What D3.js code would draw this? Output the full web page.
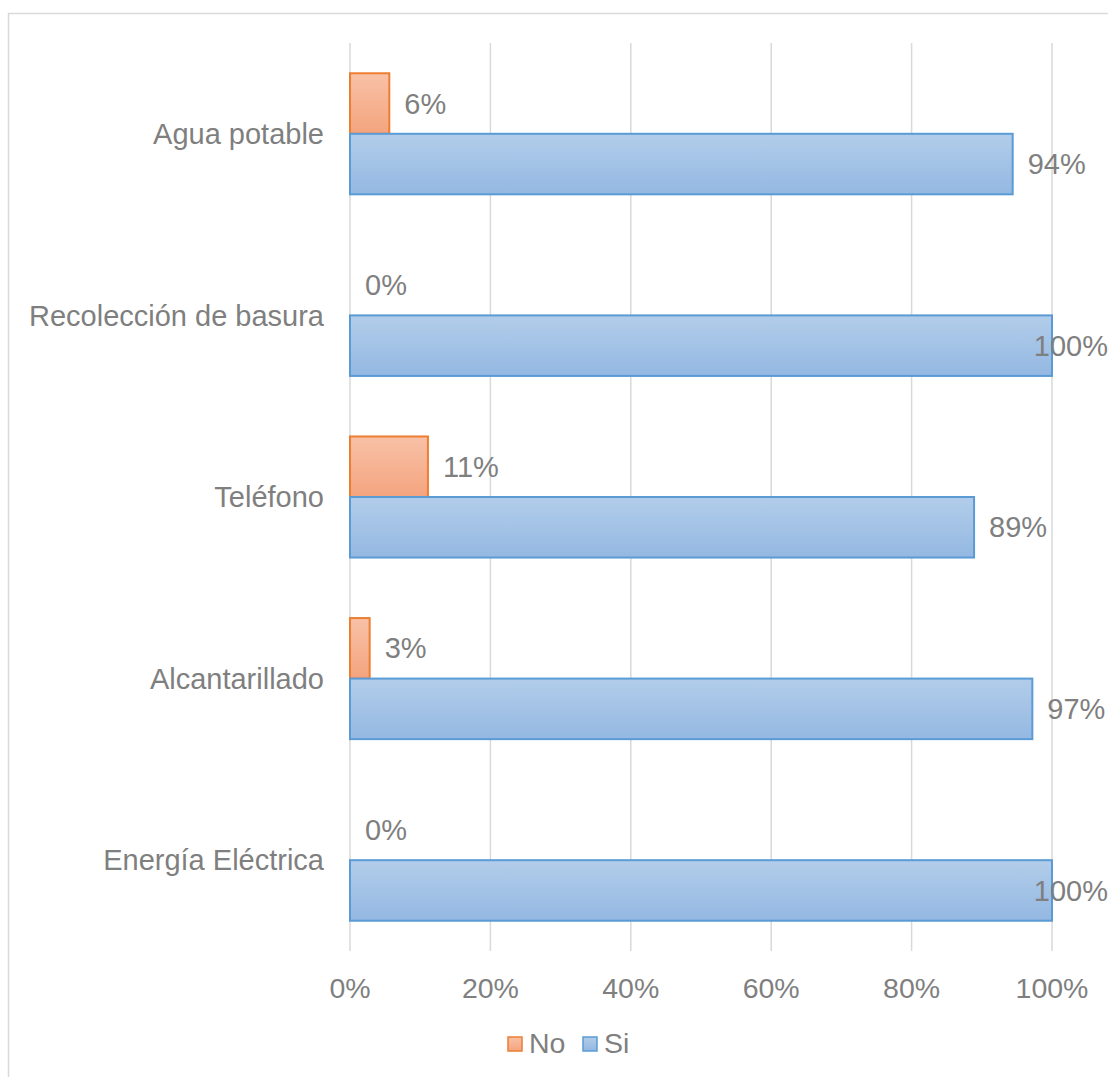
<!DOCTYPE html>
<html><head><meta charset="utf-8">
<script src="https://cdn.jsdelivr.net/npm/d3@7"></script>
<style>body{margin:0;background:#fff}svg{display:block}text{font-family:"Liberation Sans",Arial,sans-serif;fill:#7F7F7F}</style>
</head><body>
<svg id="c" width="1108" height="1077"></svg>
<script>
const categories = ["Agua potable","Recolección de basura","Teléfono","Alcantarillado","Energía Eléctrica"];
const seriesNames = ["No","Si"];
const noValues = [0.056, 0, 0.111, 0.028, 0];
const siValues = [0.944, 1, 0.889, 0.972, 1];
const noLabels = ["6%","0%","11%","3%","0%"];
const siLabels = ["94%","100%","89%","97%","100%"];
const tickValues = [0,0.2,0.4,0.6,0.8,1];
const tickLabels = ["0%","20%","40%","60%","80%","100%"];

const svg = d3.select("#c");
const W = 1108;
const defs = svg.append("defs");
function grad(id, c1, c2){
  const g = defs.append("linearGradient").attr("id",id).attr("x1",0).attr("y1",0).attr("x2",0).attr("y2",1);
  g.append("stop").attr("offset","0%").attr("stop-color",c1);
  g.append("stop").attr("offset","100%").attr("stop-color",c2);
}
grad("gNo","#F8C1A7","#F4A47E");
grad("gSi","#B2CDEA","#94B8E2");

svg.append("rect").attr("x",8.5).attr("y",13.5).attr("width",1300).attr("height",1300)
  .attr("fill","none").attr("stroke","#D9D9D9").attr("stroke-width",1.5);

const x = d3.scaleLinear().domain([0,1]).range([350,1052]);
const y = d3.scaleBand().domain(categories).range([43,951]).paddingInner(1/3).paddingOuter(1/6);
const inner = d3.scaleBand().domain(seriesNames).range([0,y.bandwidth()]);

svg.append("g").selectAll("line").data(tickValues).join("line")
  .attr("x1",d=>x(d)).attr("x2",d=>x(d)).attr("y1",43).attr("y2",951)
  .attr("stroke","#D9D9D9").attr("stroke-width",1.5);

const series = [
  {name:"No", values:noValues, labels:noLabels, fill:"url(#gNo)", stroke:"#ED7D31"},
  {name:"Si", values:siValues, labels:siLabels, fill:"url(#gSi)", stroke:"#5B9BD5"}
];

series.forEach(s=>{
  const g = svg.append("g");
  g.selectAll("rect").data(categories).join("rect")
    .attr("x",x(0))
    .attr("y",(c)=>y(c)+inner(s.name))
    .attr("width",(c,i)=>x(s.values[i])-x(0))
    .attr("height",inner.bandwidth())
    .attr("fill",s.fill)
    .attr("stroke",(c,i)=>s.values[i]>0?s.stroke:"none")
    .attr("stroke-width",2);
  g.selectAll("text").data(categories).join("text")
    .attr("y",(c)=>y(c)+inner(s.name)+inner.bandwidth()/2)
    .attr("dy","0.35em")
    .attr("font-size",29)
    .text((c,i)=>s.labels[i])
    .each(function(c,i){
      const w = this.getComputedTextLength();
      let xx = x(s.values[i]) + 15;
      if (xx + w > W) xx = W - w;
      d3.select(this).attr("x", xx);
    });
});

svg.append("g").selectAll("text").data(categories).join("text")
  .attr("x",324).attr("y",c=>y(c)+y.bandwidth()/2).attr("dy","0.35em")
  .attr("text-anchor","end").attr("font-size",29).text(c=>c);

svg.append("g").selectAll("text").data(tickValues).join("text")
  .attr("x",d=>x(d)).attr("y",998).attr("text-anchor","middle").attr("font-size",28.5)
  .text((d,i)=>tickLabels[i]);

const leg = [{name:"No",fill:"url(#gNo)",stroke:"#ED7D31",x:508},{name:"Si",fill:"url(#gSi)",stroke:"#5B9BD5",x:583}];
const lg = svg.append("g");
lg.selectAll("rect").data(leg).join("rect")
  .attr("x",d=>d.x).attr("y",1037).attr("width",14).attr("height",14)
  .attr("fill",d=>d.fill).attr("stroke",d=>d.stroke).attr("stroke-width",1.5);
lg.selectAll("text").data(leg).join("text")
  .attr("x",d=>d.x+21).attr("y",1053).attr("font-size",28.5).text(d=>d.name);
</script>
</body></html>
